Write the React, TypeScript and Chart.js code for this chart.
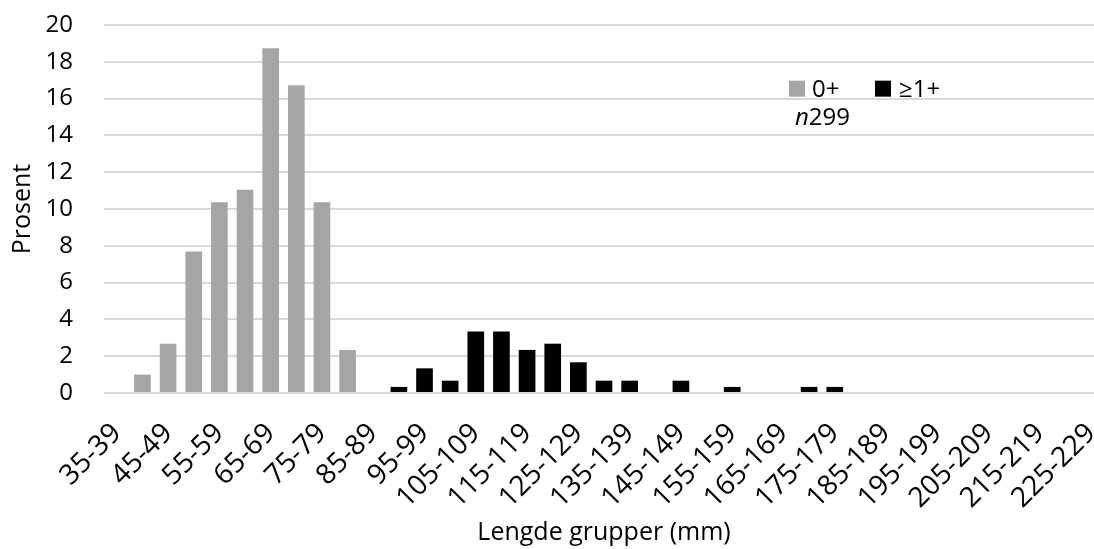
import React, { useEffect, useRef } from "react";
import { Chart, registerables } from "chart.js";

Chart.register(...registerables);

const categories = [
  "35-39", "40-44", "45-49", "50-54", "55-59", "60-64", "65-69", "70-74", "75-79", "80-84",
  "85-89", "90-94", "95-99", "100-104", "105-109", "110-114", "115-119", "120-124", "125-129", "130-134",
  "135-139", "140-144", "145-149", "150-154", "155-159", "160-164", "165-169", "170-174", "175-179", "180-184",
  "185-189", "190-194", "195-199", "200-204", "205-209", "210-214", "215-219", "220-224", "225-229",
];

const ageZero = [
  null, 1.0, 2.68, 7.69, 10.37, 11.04, 18.73, 16.72, 10.37, 2.34,
  null, null, null, null, null, null, null, null, null, null,
  null, null, null, null, null, null, null, null, null, null,
  null, null, null, null, null, null, null, null, null,
];

const ageOnePlus = [
  null, null, null, null, null, null, null, null, null, null,
  null, 0.33, 1.34, 0.67, 3.34, 3.34, 2.34, 2.68, 1.67, 0.67,
  0.67, null, 0.67, null, 0.33, null, null, 0.33, 0.33, null,
  null, null, null, null, null, null, null, null, null,
];

const seriesLabels = ["0+", "≥1+"];
const sampleNote = "299";
const yTicksMax = 20;
const yTicksStep = 2;

const FONT = "'Open Sans', 'Noto Sans', 'DejaVu Sans', sans-serif";
const GREY = "#A5A5A5";
const BLACK = "#000000";
const GRID = "#D9D9D9";

// The reference plot area runs slightly past the right edge of the picture,
// so the canvas is a little wider than the visible frame, which clips it.
const CANVAS_W = 1104;
const CANVAS_H = 549;

const legendPlugin = {
  id: "insideLegend",
  afterDatasetsDraw(chart: any) {
    const { ctx, chartArea } = chart;
    const w = chartArea.right - chartArea.left;
    const h = chartArea.bottom - chartArea.top;
    const x0 = chartArea.left + 0.685 * w;
    const yc = chartArea.top + 0.173 * h;
    const box = 16;
    ctx.save();
    ctx.font = `24px ${FONT}`;
    ctx.textBaseline = "middle";
    ctx.textAlign = "left";
    ctx.fillStyle = GREY;
    ctx.fillRect(x0, yc - box / 2, box, box);
    ctx.fillStyle = "#000";
    ctx.fillText(seriesLabels[0], x0 + 23, yc + 1);
    const x1 = x0 + 86;
    ctx.fillStyle = BLACK;
    ctx.fillRect(x1, yc - box / 2, box, box);
    ctx.fillStyle = "#000";
    ctx.fillText(seriesLabels[1], x1 + 24, yc + 1);
    const y2 = chartArea.top + 0.253 * h;
    ctx.font = `italic 24px ${FONT}`;
    ctx.fillText("n", x0 + 6, y2);
    const nw = ctx.measureText("n").width;
    ctx.font = `24px ${FONT}`;
    ctx.fillText(sampleNote, x0 + 6 + nw, y2);
    ctx.restore();
  },
};

export default function App() {
  const ref = useRef<HTMLCanvasElement | null>(null);
  useEffect(() => {
    if (!ref.current) return;
    const chart = new Chart(ref.current, {
      type: "bar",
      data: {
        labels: categories,
        datasets: [
          {
            label: seriesLabels[0],
            data: ageZero as any,
            backgroundColor: GREY,
            grouped: false,
            categoryPercentage: 1,
            barPercentage: 0.65,
          } as any,
          {
            label: seriesLabels[1],
            data: ageOnePlus as any,
            backgroundColor: BLACK,
            grouped: false,
            categoryPercentage: 1,
            barPercentage: 0.65,
          } as any,
        ],
      },
      options: {
        responsive: false,
        animation: false,
        devicePixelRatio: 1,
        layout: { padding: { top: 25, right: 0, left: 0, bottom: 0 } },
        plugins: {
          legend: { display: false },
          tooltip: { enabled: false },
        },
        scales: {
          x: {
            grid: { display: false, drawTicks: false },
            border: { display: false },
            ticks: {
              autoSkip: false,
              minRotation: 45,
              maxRotation: 45,
              padding: 24,
              color: "#000",
              font: { family: FONT, size: 28 },
              callback: (_v: any, i: number) => (i % 2 === 0 ? categories[i] : ""),
            },
            title: {
              display: true,
              text: "Lengde grupper (mm)",
              color: "#000",
              font: { family: FONT, size: 25 },
              padding: { top: 0, bottom: 1 },
            },
            afterFit: (s: any) => {
              s.height = 156;
              s.paddingLeft = 0;
              s.paddingRight = 0;
            },
          },
          y: {
            min: 0,
            max: yTicksMax,
            grid: { color: GRID, lineWidth: 2, drawTicks: false },
            border: { display: false },
            ticks: {
              stepSize: yTicksStep,
              padding: 31,
              color: "#000",
              font: { family: FONT, size: 24 },
            },
            title: {
              display: true,
              text: "Prosent",
              color: "#000",
              font: { family: FONT, size: 25 },
              padding: { top: 8, bottom: 0 },
            },
            afterFit: (s: any) => {
              s.width = 104;
              s.paddingTop = 0;
              s.paddingBottom = 0;
            },
          },
        },
      },
      plugins: [legendPlugin],
    });
    return () => chart.destroy();
  }, []);
  return (
    <div style={{ position: "fixed", left: 0, top: 0, width: 1094, height: 549, background: "#fff", overflow: "hidden" }}>
      <canvas
        ref={ref}
        width={CANVAS_W}
        height={CANVAS_H}
        style={{ width: CANVAS_W, height: CANVAS_H, display: "block" }}
      />
    </div>
  );
}
